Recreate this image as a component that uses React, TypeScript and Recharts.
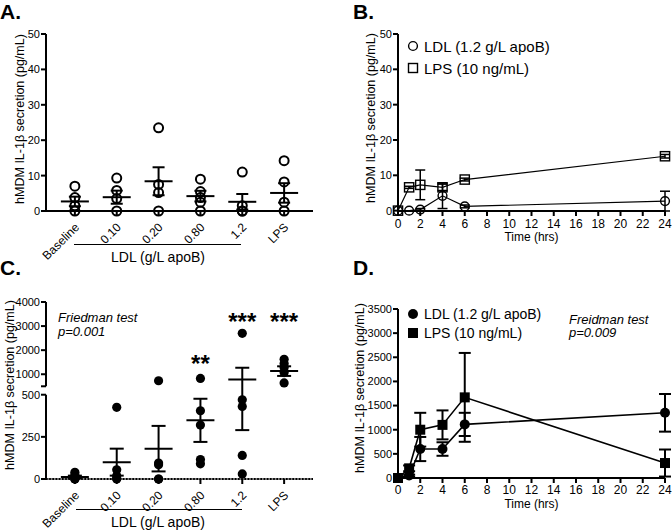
import React from 'react';
import {
  ScatterChart, Scatter, XAxis, YAxis, ErrorBar, ReferenceLine, ReferenceDot,
} from 'recharts';

// ── Fonts / ink ───────────────────────────────────────────────────────────────
const FONT = '"Liberation Sans", Arial, Helvetica, sans-serif';
const INK = '#000';

// ── Dose panels (A, C) ────────────────────────────────────────────────────────
const doseLabels = ['Baseline', '0.10', '0.20', '0.80', '1.2', 'LPS'];
const doseIdx = [0, 1, 2, 3, 4, 5];

// A: hMDM IL-1β (pg/mL), one value per donor
const aDonors = [
  [7.0, 3.8, 1.5, 0],
  [9.3, 5.8, 3.5, 0],
  [23.5, 7.5, 5.2, 0],
  [9.0, 5.5, 3.8, 2.5, 0],
  [11.0, 1.5, 0, 0],
  [14.2, 8.2, 2.5, 0],
];
const aMean = [2.7, 3.9, 8.4, 4.2, 2.6, 5.1];
const aSem = [1.35, 1.85, 3.95, 1.5, 2.2, 2.75];
const aTicks = [0, 10, 20, 30, 40, 50];

// C: primed cells (pg/mL)
const cDonors = [
  [40, 25, 10, 0, 0],
  [425, 55, 20, 5, 0],
  [730, 95, 85, 0, 0],
  [825, 405, 320, 115, 90],
  [2700, 470, 430, 140, 30],
  [1620, 1450, 1280, 1070, 640],
];
const cMean = [12, 100, 180, 348, 780, 1130];
const cSem = [8, 80, 135, 128, 490, 200];
const cTicks = [0, 250, 500, 1000, 2000, 3000, 4000];
const cStarCat = [3, 4, 5];
const cStarText = ['**', '***', '***'];
const cStarAt = [1440, 3210, 3210];

// ── Time course panels (B, D) ─────────────────────────────────────────────────
const hours = [0, 1, 2, 4, 6, 24];
const hourTicks = [0, 2, 4, 6, 8, 10, 12, 14, 16, 18, 20, 22, 24];

const bLdl = [0, 0, 0.3, 4.2, 1.2, 2.7];
const bLdlSem = [0, 0, 0.3, 3.6, 0.4, 2.8];
const bLps = [0, 6.6, 7.3, 6.6, 8.8, 15.4];
const bLpsSem = [0, 0.3, 4.2, 0.9, 0.4, 0.5];

const dLdl = [0, 50, 600, 600, 1110, 1350];
const dLdlSem = [0, 20, 250, 140, 240, 390];
const dLps = [0, 200, 1000, 1100, 1670, 310];
const dLpsSem = [0, 60, 350, 300, 920, 280];
const dTicks = [0, 500, 1000, 1500, 2000, 2500, 3000, 3500];

// ── Broken y axis for C: 0–500 below, 500–4000 compressed above a gap ─────────
const BREAK = 500;
const GAP = 50;
const brk = (v: number) => (v <= BREAK ? v : BREAK + GAP + (v - BREAK) * (500 / 3500));
const C_TOP = brk(4000);
const cTickPos = cTicks.map(brk);

// ── Derived series ────────────────────────────────────────────────────────────
const aPts = aDonors.flatMap((vals, i) => vals.map((v) => ({ x: i, y: v })));
const aMeans = aMean.map((m, i) => ({ x: i, y: m, err: aSem[i] }));
const cPts = cDonors.flatMap((vals, i) => vals.map((v) => ({ x: i, y: brk(v) })));
const cMeans = cMean.map((m, i) => ({
  x: i,
  y: brk(m),
  err: [brk(m) - brk(Math.max(0, m - cSem[i])), brk(m + cSem[i]) - brk(m)],
}));
const series = (ys: number[], errs: number[]) => hours.map((h, i) => ({ x: h, y: ys[i], err: errs[i] }));

// ── Shared styles ─────────────────────────────────────────────────────────────
const tickStyle = { fill: INK, fontSize: 11, fontFamily: FONT };
const axisStroke = { stroke: INK, strokeWidth: 2 };
const X_DOMAIN: [number, number] = [-0.69, 5.69];

// ── Marker shapes ─────────────────────────────────────────────────────────────
const OpenDot = (p: any) => <circle cx={p.cx} cy={p.cy} r={4.5} fill="none" stroke={INK} strokeWidth={2} />;
const FillDot = (p: any) => <circle cx={p.cx} cy={p.cy} r={4.6} fill={INK} />;
const MeanBar = (p: any) => (
  <line x1={p.cx - 14} x2={p.cx + 14} y1={p.cy} y2={p.cy} stroke={INK} strokeWidth={2} />
);
const OpenCircle = (p: any) => <circle cx={p.cx} cy={p.cy} r={4.4} fill="none" stroke={INK} strokeWidth={1.4} />;
const OpenSquare = (p: any) => (
  <rect x={p.cx - 4.6} y={p.cy - 4.6} width={9.2} height={9.2} fill="none" stroke={INK} strokeWidth={1.4} />
);
const BigDot = (p: any) => <circle cx={p.cx} cy={p.cy} r={5} fill={INK} />;
const BigSquare = (p: any) => <rect x={p.cx - 5} y={p.cy - 5} width={10} height={10} fill={INK} />;

function DoseTick({ x, y, payload }: any) {
  const ax = x + 5;
  const ay = y + 10;
  return (
    <text x={ax} y={ay} transform={`rotate(-45 ${ax} ${ay})`} textAnchor="end" fill={INK} fontSize={12} fontFamily={FONT}>
      {doseLabels[payload.value]}
    </text>
  );
}

// ── Overlay text helpers ──────────────────────────────────────────────────────
function Txt({ x, y, size, children, italic, bold, center }: any) {
  return (
    <div
      style={{
        position: 'absolute', left: x, top: y - size / 2, fontSize: size, lineHeight: `${size}px`,
        whiteSpace: 'nowrap', fontStyle: italic ? 'italic' : 'normal', fontWeight: bold ? 700 : 400,
        transform: center ? 'translateX(-50%)' : undefined,
      }}
    >
      {children}
    </div>
  );
}

function YTitle({ x, y }: { x: number; y: number }) {
  return (
    <div
      style={{
        position: 'absolute', left: x, top: y, fontSize: 12.5, lineHeight: '13px', whiteSpace: 'nowrap',
        transform: 'translate(-50%, -50%) rotate(-90deg)',
      }}
    >
      hMDM IL-1β secretion (pg/mL)
    </div>
  );
}

function LegendRow({ x, y, filled, square, label, size }: any) {
  const s = filled ? 10 : 9;
  return (
    <>
      <svg style={{ position: 'absolute', left: x - 6, top: y - 6 }} width={12} height={12}>
        {square ? (
          <rect x={6 - s / 2} y={6 - s / 2} width={s} height={s} fill={filled ? INK : 'none'} stroke={INK} strokeWidth={filled ? 0 : 1.4} />
        ) : (
          <circle cx={6} cy={6} r={filled ? 5 : 4.4} fill={filled ? INK : 'none'} stroke={INK} strokeWidth={filled ? 0 : 1.4} />
        )}
      </svg>
      <Txt x={x + 11} y={y} size={size}>{label}</Txt>
    </>
  );
}

// ── Panel A ───────────────────────────────────────────────────────────────────
function PanelA() {
  return (
    <div style={{ position: 'absolute', left: 0, top: 0, width: 336, height: 266 }}>
      <ScatterChart width={336} height={266} margin={{ top: 34, right: 23, bottom: 0, left: 0 }}>
        <XAxis type="number" dataKey="x" domain={X_DOMAIN} ticks={doseIdx} interval={0} tick={<DoseTick />}
          tickSize={5} tickLine={axisStroke} axisLine={axisStroke} height={55} allowDataOverflow />
        <YAxis type="number" dataKey="y" domain={[0, 50]} ticks={aTicks} interval={0} width={46} tick={tickStyle}
          tickSize={5} tickMargin={1} tickLine={axisStroke} axisLine={axisStroke} />
        <Scatter data={aPts} shape={OpenDot} isAnimationActive={false} />
        <Scatter data={aMeans} shape={MeanBar} isAnimationActive={false}>
          <ErrorBar dataKey="err" direction="y" width={6} stroke={INK} strokeWidth={2} isAnimationActive={false} />
        </Scatter>
      </ScatterChart>
    </div>
  );
}

// ── Panel B ───────────────────────────────────────────────────────────────────
function PanelB() {
  return (
    <div style={{ position: 'absolute', left: 336, top: 0, width: 336, height: 266 }}>
      <ScatterChart width={336} height={266} margin={{ top: 34, right: 7, bottom: 0, left: 0 }}>
        <XAxis type="number" dataKey="x" domain={[0, 24]} ticks={hourTicks} interval={0} tick={{ ...tickStyle, fontSize: 12 }}
          tickSize={5} tickMargin={3} tickLine={axisStroke} axisLine={axisStroke} height={55}
          label={{ value: 'Time (hrs)', position: 'insideBottom', offset: 25, fill: INK, fontSize: 12, fontFamily: FONT }} />
        <YAxis type="number" dataKey="y" domain={[0, 50]} ticks={aTicks} interval={0} width={62} tick={tickStyle}
          tickSize={5} tickMargin={1} tickLine={axisStroke} axisLine={axisStroke} />
        <Scatter data={series(bLdl, bLdlSem)} shape={OpenCircle} line={{ stroke: INK, strokeWidth: 1.2 }} isAnimationActive={false}>
          <ErrorBar dataKey="err" direction="y" width={5} stroke={INK} strokeWidth={1.5} isAnimationActive={false} />
        </Scatter>
        <Scatter data={series(bLps, bLpsSem)} shape={OpenSquare} line={{ stroke: INK, strokeWidth: 1.2 }} isAnimationActive={false}>
          <ErrorBar dataKey="err" direction="y" width={5} stroke={INK} strokeWidth={1.5} isAnimationActive={false} />
        </Scatter>
      </ScatterChart>
    </div>
  );
}

// ── Panel C ───────────────────────────────────────────────────────────────────
function PanelC() {
  return (
    <div style={{ position: 'absolute', left: 0, top: 266, width: 336, height: 266 }}>
      <ScatterChart width={336} height={266} margin={{ top: 36, right: 23, bottom: 0, left: 0 }}>
        <XAxis type="number" dataKey="x" domain={X_DOMAIN} ticks={doseIdx} interval={0} tick={<DoseTick />}
          tickSize={5} tickLine={axisStroke} axisLine={{ stroke: INK, strokeWidth: 1 }} height={53} allowDataOverflow />
        <YAxis type="number" dataKey="y" domain={[0, C_TOP]} ticks={[...cTickPos, BREAK + GAP]} interval={0} width={46}
          tick={tickStyle} tickSize={5} tickMargin={1} tickLine={axisStroke} axisLine={false}
          tickFormatter={(t: number) => {
            const i = cTickPos.indexOf(t);
            return i >= 0 ? String(cTicks[i]) : '';
          }} />
        <ReferenceLine segment={[{ x: X_DOMAIN[0], y: 0 }, { x: X_DOMAIN[0], y: BREAK }]} stroke={INK} strokeWidth={2} ifOverflow="visible" />
        <ReferenceLine segment={[{ x: X_DOMAIN[0], y: BREAK + GAP }, { x: X_DOMAIN[0], y: C_TOP }]} stroke={INK} strokeWidth={2} ifOverflow="visible" />
        <ReferenceLine y={0} stroke={INK} strokeWidth={2.2} strokeDasharray="1.6 1.6" ifOverflow="visible" />
        <Scatter data={cPts} shape={FillDot} isAnimationActive={false} />
        <Scatter data={cMeans} shape={MeanBar} isAnimationActive={false}>
          <ErrorBar dataKey="err" direction="y" width={7} stroke={INK} strokeWidth={2} isAnimationActive={false} />
        </Scatter>
        {cStarCat.map((c, i) => (
          <ReferenceDot key={c} x={c} y={brk(cStarAt[i])} r={0} fill="none" stroke="none"
            label={{ value: cStarText[i], position: 'center', fill: INK, fontSize: 24, fontWeight: 700, fontFamily: FONT }} />
        ))}
      </ScatterChart>
    </div>
  );
}

// ── Panel D ───────────────────────────────────────────────────────────────────
function PanelD() {
  return (
    <div style={{ position: 'absolute', left: 336, top: 266, width: 336, height: 266 }}>
      <ScatterChart width={336} height={266} margin={{ top: 43, right: 7, bottom: 0, left: 0 }}>
        <XAxis type="number" dataKey="x" domain={[0, 24]} ticks={hourTicks} interval={0} tick={{ ...tickStyle, fontSize: 12 }}
          tickSize={5} tickMargin={2} tickLine={axisStroke} axisLine={axisStroke} height={54}
          label={{ value: 'Time (hrs)', position: 'insideBottom', offset: 24, fill: INK, fontSize: 12, fontFamily: FONT }} />
        <YAxis type="number" dataKey="y" domain={[0, 3500]} ticks={dTicks} interval={0} width={62} tick={tickStyle}
          tickSize={5} tickMargin={1} tickLine={axisStroke} axisLine={axisStroke} />
        <Scatter data={series(dLdl, dLdlSem)} shape={BigDot} line={{ stroke: INK, strokeWidth: 1.6 }} isAnimationActive={false}>
          <ErrorBar dataKey="err" direction="y" width={6} stroke={INK} strokeWidth={2} isAnimationActive={false} />
        </Scatter>
        <Scatter data={series(dLps, dLpsSem)} shape={BigSquare} line={{ stroke: INK, strokeWidth: 1.6 }} isAnimationActive={false}>
          <ErrorBar dataKey="err" direction="y" width={6} stroke={INK} strokeWidth={2} isAnimationActive={false} />
        </Scatter>
      </ScatterChart>
    </div>
  );
}

// ── Figure ────────────────────────────────────────────────────────────────────
export default function App() {
  return (
    <div style={{ position: 'absolute', left: 0, top: 0, width: 672, height: 532, background: '#fff', fontFamily: FONT, color: INK, overflow: 'hidden' }}>
      <PanelA />
      <PanelB />
      <PanelC />
      <PanelD />

      <Txt x={0} y={11.5} size={21} bold>A.</Txt>
      <Txt x={353} y={11.5} size={21} bold>B.</Txt>
      <Txt x={0} y={267} size={21} bold>C.</Txt>
      <Txt x={353} y={267} size={21} bold>D.</Txt>

      <YTitle x={20} y={119} />
      <YTitle x={371} y={118} />
      <YTitle x={10} y={385} />
      <YTitle x={360} y={388} />

      <div style={{ position: 'absolute', left: 74, top: 244, width: 167, height: 1, background: INK }} />
      <Txt x={158} y={257} size={14} center>LDL (g/L apoB)</Txt>
      <div style={{ position: 'absolute', left: 76, top: 509, width: 166, height: 1, background: INK }} />
      <Txt x={158} y={522} size={14} center>LDL (g/L apoB)</Txt>

      <LegendRow x={413} y={46} label="LDL (1.2 g/L apoB)" size={15} />
      <LegendRow x={413} y={68} square label="LPS (10 ng/mL)" size={15} />
      <LegendRow x={413} y={314} filled label="LDL (1.2 g/L apoB)" size={14} />
      <LegendRow x={413} y={333} filled square label="LPS (10 ng/mL)" size={14} />

      <Txt x={58} y={317} size={13} italic>Friedman test</Txt>
      <Txt x={58} y={331} size={13} italic>p=0.001</Txt>
      <Txt x={569} y={319} size={13} italic>Freidman test</Txt>
      <Txt x={569} y={332.5} size={13} italic>p=0.009</Txt>
    </div>
  );
}
